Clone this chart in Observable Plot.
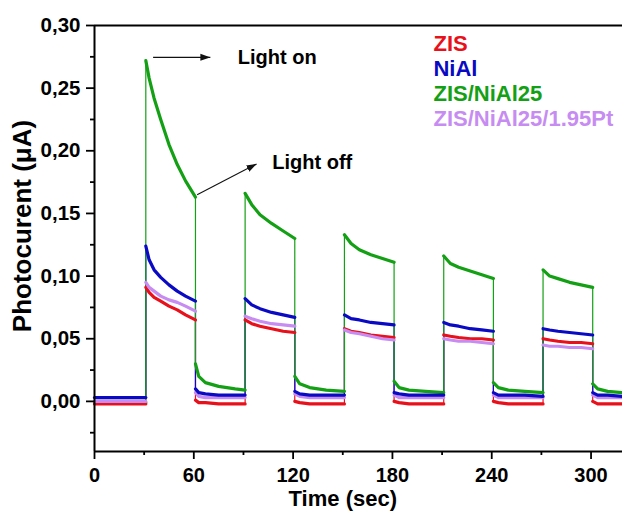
<!DOCTYPE html>
<html>
<head>
<meta charset="utf-8">
<script src="https://cdn.jsdelivr.net/npm/d3@7"></script>
<script src="https://cdn.jsdelivr.net/npm/@observablehq/plot@0.6"></script>
<style>
  body { margin: 0; background: #fff; }
</style>
</head>
<body>
<div id="chart"></div>
<script>
// Sampling times (s); a repeated time marks the light switching on or off.
const time = [
  0, 31,
  31, 33, 36, 40, 45, 50, 55, 61,
  61, 63, 67, 75, 85, 91,
  91, 95, 100, 107, 114, 121,
  121, 124, 130, 140, 151,
  151, 155, 160, 167, 174, 181,
  181, 184, 190, 200, 211,
  211, 215, 220, 227, 234, 241,
  241, 244, 250, 260, 271,
  271, 275, 280, 287, 294, 301,
  301, 304, 310, 319
];

// Photocurrent (µA) of each sample
const zis = [
  -0.002, -0.002,
  0.091, 0.087, 0.083, 0.080, 0.076, 0.073, 0.069, 0.065,
  0.001, -0.001, -0.001, -0.002, -0.002, -0.002,
  0.065, 0.062, 0.060, 0.058, 0.056, 0.055,
  0.000, -0.001, -0.002, -0.002, -0.002,
  0.058, 0.056, 0.055, 0.053, 0.052, 0.051,
  0.000, -0.001, -0.002, -0.002, -0.002,
  0.053, 0.052, 0.051, 0.050, 0.050, 0.049,
  0.000, -0.001, -0.002, -0.002, -0.002,
  0.050, 0.049, 0.048, 0.047, 0.047, 0.046,
  0.000, -0.002, -0.002, -0.002
];
const nial = [
  0.003, 0.003,
  0.124, 0.113, 0.105, 0.099, 0.093, 0.088, 0.084, 0.080,
  0.010, 0.007, 0.006, 0.005, 0.005, 0.005,
  0.082, 0.077, 0.074, 0.071, 0.069, 0.067,
  0.008, 0.006, 0.005, 0.005, 0.005,
  0.069, 0.066, 0.065, 0.063, 0.062, 0.061,
  0.007, 0.006, 0.005, 0.005, 0.005,
  0.063, 0.061, 0.060, 0.058, 0.057, 0.056,
  0.007, 0.005, 0.005, 0.005, 0.004,
  0.058, 0.057, 0.056, 0.055, 0.054, 0.053,
  0.007, 0.005, 0.005, 0.004
];
const zisNial25 = [
  -0.001, -0.001,
  0.272, 0.258, 0.242, 0.225, 0.205, 0.189, 0.176, 0.163,
  0.030, 0.020, 0.015, 0.012, 0.010, 0.009,
  0.166, 0.157, 0.149, 0.142, 0.136, 0.130,
  0.020, 0.014, 0.011, 0.009, 0.008,
  0.133, 0.126, 0.121, 0.117, 0.114, 0.111,
  0.016, 0.011, 0.009, 0.008, 0.007,
  0.116, 0.110, 0.107, 0.104, 0.101, 0.098,
  0.015, 0.011, 0.009, 0.008, 0.007,
  0.105, 0.100, 0.098, 0.095, 0.093, 0.091,
  0.014, 0.010, 0.008, 0.007
];
const zisNial25Pt = [
  0.000, 0.000,
  0.095, 0.091, 0.088, 0.084, 0.081, 0.079, 0.076, 0.072,
  0.007, 0.004, 0.003, 0.003, 0.003, 0.003,
  0.068, 0.066, 0.064, 0.062, 0.061, 0.060,
  0.006, 0.004, 0.003, 0.003, 0.003,
  0.057, 0.055, 0.054, 0.052, 0.050, 0.049,
  0.005, 0.003, 0.003, 0.003, 0.003,
  0.050, 0.049, 0.048, 0.048, 0.047, 0.046,
  0.005, 0.003, 0.003, 0.003, 0.003,
  0.045, 0.044, 0.044, 0.043, 0.043, 0.042,
  0.005, 0.003, 0.003, 0.003
];

const seriesNames = ["ZIS", "NiAl", "ZIS/NiAl25", "ZIS/NiAl25/1.95Pt"];
const seriesValues = [zis, nial, zisNial25, zisNial25Pt];
const seriesColors = ["#e8101a", "#0a0ac4", "#14a014", "#c78cf2"];

const xTicks = [0, 60, 120, 180, 240, 300];
const xMinorTicks = [30, 90, 150, 210, 270];
const yTicks = [0, 0.05, 0.10, 0.15, 0.20, 0.25, 0.30];
const yMinorTicks = [-0.025, 0.025, 0.075, 0.125, 0.175, 0.225, 0.275];

const xLabel = "Time (sec)";
const yLabel = "Photocurent (\u03bcA)";

// Annotations: label text and arrow end points, in data units
const noteText = ["Light on", "Light off"];
const noteX = [86.6, 107.4];
const noteY = [0.2744, 0.1909];
const arrowX1 = [35.4, 62.0];
const arrowY1 = [0.2746, 0.165];
const arrowX2 = [70.0, 97.9];
const arrowY2 = [0.2746, 0.1895];

// Long-format rows; seg counts the flat stretches between switching edges
const rows = [];
seriesNames.forEach((name, k) => {
  let seg = 0;
  time.forEach((t, i) => {
    if (i > 0 && t === time[i - 1]) seg++;
    rows.push({name, t, v: seriesValues[k][i], seg});
  });
});
const notes = noteText.map((text, i) => ({text, x: noteX[i], y: noteY[i]}));
const arrows = arrowX1.map((x1, i) => ({x1, y1: arrowY1[i], x2: arrowX2[i], y2: arrowY2[i]}));

// Filled triangular arrowhead
function solidHead(color, context) {
  const doc = (context && context.document) || document;
  const ns = "http://www.w3.org/2000/svg";
  const m = doc.createElementNS(ns, "marker");
  m.setAttribute("viewBox", "0 -5 10 10");
  m.setAttribute("refX", "10");
  m.setAttribute("refY", "0");
  m.setAttribute("markerWidth", "10");
  m.setAttribute("markerHeight", "10");
  m.setAttribute("markerUnits", "userSpaceOnUse");
  m.setAttribute("orient", "auto");
  const p = doc.createElementNS(ns, "path");
  p.setAttribute("d", "M0,-3.5L10,0L0,3.5Z");
  p.setAttribute("fill", color);
  p.setAttribute("stroke", "none");
  m.appendChild(p);
  return m;
}

const fmt = d => d.toFixed(2).replace(".", ",");
const drawOrder = ["ZIS/NiAl25", "ZIS", "ZIS/NiAl25/1.95Pt", "NiAl"];

const lineMarks = [];
// thin traces, including the vertical switching edges
["ZIS", "ZIS/NiAl25/1.95Pt", "NiAl", "ZIS/NiAl25"].forEach(name => {
  lineMarks.push(Plot.line(rows.filter(d => d.name === name),
    {x: "t", y: "v", stroke: "name", strokeWidth: 1.2}));
});
// thicker noisy plateaus
drawOrder.forEach(name => {
  lineMarks.push(Plot.line(rows.filter(d => d.name === name),
    {x: "t", y: "v", z: "seg", stroke: "name", strokeWidth: 3.2, strokeLinejoin: "round"}));
});

const chart = Plot.plot({
  width: 622,
  height: 511,
  marginLeft: 94,
  marginRight: 0,
  marginTop: 25,
  marginBottom: 60,
  x: {domain: [0, 319]},
  y: {domain: [-0.04, 0.30]},
  color: {domain: seriesNames, range: seriesColors},
  style: {
    fontFamily: "'Liberation Sans', Arial, sans-serif",
    fontWeight: "bold",
    color: "#000",
    background: "#fff"
  },
  marks: [
    ...lineMarks,
    Plot.ruleY([0.30], {strokeWidth: 2}),
    Plot.ruleY([-0.04], {strokeWidth: 2}),
    Plot.ruleX([0], {strokeWidth: 2}),
    Plot.axisX(xTicks, {tickSize: 8, tickPadding: 8, strokeWidth: 1.8, fontSize: 20, fontWeight: "bold", label: null}),
    Plot.axisX(xMinorTicks, {tickSize: 4, strokeWidth: 1.8, tickFormat: () => "", label: null}),
    Plot.axisY(yTicks, {tickSize: 8, tickPadding: 6, strokeWidth: 1.8, fontSize: 20.5, fontWeight: "bold", tickFormat: fmt, label: null}),
    Plot.axisY(yMinorTicks, {tickSize: 4, strokeWidth: 1.8, tickFormat: () => "", label: null}),
    Plot.text([xLabel], {x: 150, frameAnchor: "bottom", textAnchor: "middle", dy: 54, fontSize: 22, fontWeight: "bold", fill: "#000"}),
    Plot.text([yLabel], {frameAnchor: "left", textAnchor: "middle", rotate: -90, dx: -72, dy: -12.5, fontSize: 26, fontWeight: "bold", fill: "#000"}),
    Plot.text(seriesNames, {
      x: () => 204.8,
      y: (d, i) => 0.2852 - i * 0.0199,
      text: d => d,
      fill: d => d,
      textAnchor: "start",
      fontSize: 22,
      fontWeight: "bold"
    }),
    Plot.link(arrows, {x1: "x1", y1: "y1", x2: "x2", y2: "y2", stroke: "#111", strokeWidth: 1.1, markerEnd: solidHead}),
    Plot.text(notes, {x: "x", y: "y", text: "text", textAnchor: "start", fontSize: 20, fontWeight: "bold", fill: "#000"})
  ]
});

document.getElementById("chart").appendChild(chart);
</script>
</body>
</html>
